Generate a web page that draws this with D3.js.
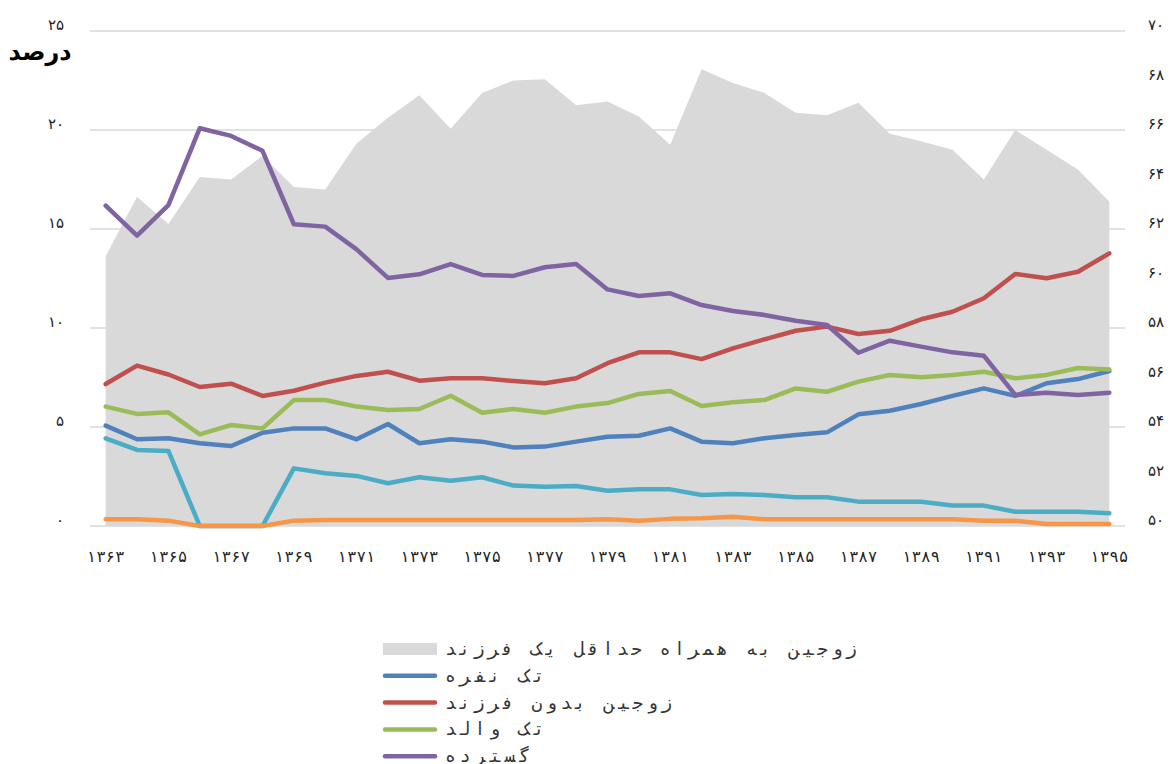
<!DOCTYPE html>
<html>
<head>
<meta charset="utf-8">
<script src="https://cdn.jsdelivr.net/npm/d3@7/dist/d3.min.js"></script>
<style>
html,body{margin:0;padding:0;background:#fff;overflow:hidden;}
svg{display:block;}
</style>
</head>
<body>
<svg id="chart" width="1171" height="764"></svg>
<script>
const years = d3.range(1363, 1396);
const yearLabels = years.filter((d, i) => i % 2 === 0);
const leftTicks = [0, 5, 10, 15, 20, 25];
const rightTicks = [50, 52, 54, 56, 58, 60, 62, 64, 66, 68, 70];

// زوجین به همراه حداقل یک فرزند (right axis)
const coupleWithChild = [60.9,63.3,62.2,64.1,64.0,64.95,63.7,63.6,65.45,66.5,67.4,66.05,67.5,68.0,68.05,67.0,67.15,66.55,65.4,68.45,67.9,67.5,66.7,66.6,67.1,65.85,65.55,65.2,64.0,66.0,65.2,64.4,63.1];
// تک نفره
const single = [5.07,4.38,4.43,4.18,4.04,4.71,4.93,4.93,4.38,5.15,4.18,4.38,4.26,3.97,4.01,4.26,4.51,4.56,4.93,4.26,4.18,4.43,4.60,4.73,5.64,5.82,6.16,6.57,6.95,6.57,7.21,7.42,7.83];
// زوجین بدون فرزند
const childless = [7.17,8.10,7.65,7.02,7.19,6.57,6.83,7.24,7.58,7.79,7.34,7.46,7.46,7.32,7.21,7.46,8.22,8.77,8.77,8.43,8.97,9.43,9.86,10.07,9.70,9.86,10.44,10.82,11.50,12.73,12.51,12.84,13.77];
// تک والد
const singleParent = [6.03,5.66,5.74,4.63,5.10,4.93,6.36,6.36,6.03,5.86,5.91,6.58,5.72,5.91,5.72,6.03,6.21,6.67,6.82,6.06,6.25,6.36,6.95,6.78,7.29,7.63,7.51,7.63,7.79,7.46,7.63,7.98,7.91];
// گسترده
const extended = [16.18,14.66,16.21,20.09,19.70,18.95,15.24,15.12,13.97,12.53,12.71,13.23,12.68,12.63,13.07,13.23,11.95,11.62,11.75,11.16,10.86,10.66,10.37,10.15,8.75,9.36,9.06,8.77,8.60,6.62,6.73,6.62,6.73];
// further series (not named in the visible legend)
const series6 = [4.43,3.84,3.79,0,0,0,2.91,2.66,2.53,2.16,2.46,2.29,2.46,2.04,1.98,2.02,1.78,1.85,1.85,1.57,1.62,1.57,1.45,1.45,1.23,1.23,1.23,1.03,1.03,0.72,0.72,0.72,0.64];
const series7 = [0.34,0.34,0.27,0,0,0,0.27,0.3,0.3,0.3,0.3,0.3,0.3,0.3,0.3,0.3,0.34,0.27,0.36,0.39,0.47,0.34,0.34,0.34,0.34,0.34,0.34,0.34,0.27,0.27,0.1,0.1,0.1];

const legendNames = ["زوجین به همراه حداقل یک فرزند", "تک نفره", "زوجین بدون فرزند", "تک والد", "گسترده"];

const fa = n => String(n).replace(/\d/g, d => "۰۱۲۳۴۵۶۷۸۹"[d]);

const svg = d3.select("#chart");
const mLeft = 90, mRight = 1125, mTop = 31, mBottom = 526;

const x = d3.scaleBand().domain(years).range([mLeft, mRight]).padding(0);
const cx = d => x(d) + x.bandwidth() / 2;
const yL = d3.scaleLinear().domain([0, 25]).range([mBottom, mTop]);
const yR = d3.scaleLinear().domain([50, 70]).range([mBottom, mTop]);

// gridlines
svg.append("g").selectAll("line").data(leftTicks).join("line")
  .attr("x1", mLeft).attr("x2", mRight)
  .attr("y1", d => yL(d)).attr("y2", d => yL(d))
  .attr("stroke", "#d9d9d9").attr("stroke-width", 1.5);

// area
const area = d3.area()
  .x((d, i) => cx(years[i]))
  .y0(yR(50))
  .y1(d => yR(d));
svg.append("path").datum(coupleWithChild).attr("d", area).attr("fill", "#d9d9d9");

const lineL = d3.line().x((d, i) => cx(years[i])).y(d => yL(d));
const lines = [
  [single, "#4f81bd"],
  [childless, "#c0504d"],
  [singleParent, "#9bbb59"],
  [extended, "#8064a2"],
  [series6, "#4bacc6"],
  [series7, "#f79646"]
];
lines.forEach(([data, color]) => {
  svg.append("path").datum(data).attr("d", lineL)
    .attr("fill", "none").attr("stroke", color)
    .attr("stroke-width", 4.5).attr("stroke-linejoin", "round").attr("stroke-linecap", "round");
});

const fontFam = "'DejaVu Sans', sans-serif";

// left axis
const gl = svg.append("g").attr("transform", `translate(${mLeft},0)`)
  .call(d3.axisLeft(yL).tickValues(leftTicks).tickSize(0).tickPadding(26).tickFormat(fa));
gl.select(".domain").remove();
gl.selectAll("text").attr("font-family", fontFam).attr("font-size", 15).attr("fill", "#222").attr("dy", "-0.1em");

// right axis
const gr = svg.append("g").attr("transform", `translate(${mRight},0)`)
  .call(d3.axisRight(yR).tickValues(rightTicks).tickSize(0).tickPadding(23).tickFormat(fa));
gr.select(".domain").remove();
gr.selectAll("text").attr("font-family", fontFam).attr("font-size", 15).attr("fill", "#222").attr("dy", "-0.1em");

// bottom axis
const gb = svg.append("g").attr("transform", `translate(0,${mBottom})`)
  .call(d3.axisBottom(x).tickValues(yearLabels).tickSize(0).tickPadding(25).tickFormat(fa));
gb.select(".domain").remove();
gb.selectAll("text").attr("font-family", fontFam).attr("font-size", 16).attr("fill", "#222")
  .attr("textLength", 37).attr("lengthAdjust", "spacing");

// unit label
svg.append("text").attr("x", 40).attr("y", 60).attr("text-anchor", "middle")
  .attr("font-family", fontFam).attr("font-weight", "bold").attr("font-size", 24)
  .attr("fill", "#000").text("درصد");

// legend
const legColors = ["#d9d9d9", "#4f81bd", "#c0504d", "#9bbb59", "#8064a2"];
const lg = svg.append("g");
legendNames.forEach((name, i) => {
  const yy = 649 + i * 26.8;
  if (i === 0) {
    lg.append("rect").attr("x", 383).attr("y", yy - 6).attr("width", 54).attr("height", 12).attr("fill", legColors[i]);
  } else {
    lg.append("line").attr("x1", 385).attr("x2", 435).attr("y1", yy).attr("y2", yy)
      .attr("stroke", legColors[i]).attr("stroke-width", 4.5).attr("stroke-linecap", "round");
  }
  lg.append("text").attr("x", 445).attr("y", yy + 6)
    .attr("font-family", "'DejaVu Sans Mono', monospace").attr("font-size", 18)
    .attr("textLength", name.length * 14.2).attr("lengthAdjust", "spacing")
    .attr("fill", "#333").text(name);
});
</script>
</body>
</html>
